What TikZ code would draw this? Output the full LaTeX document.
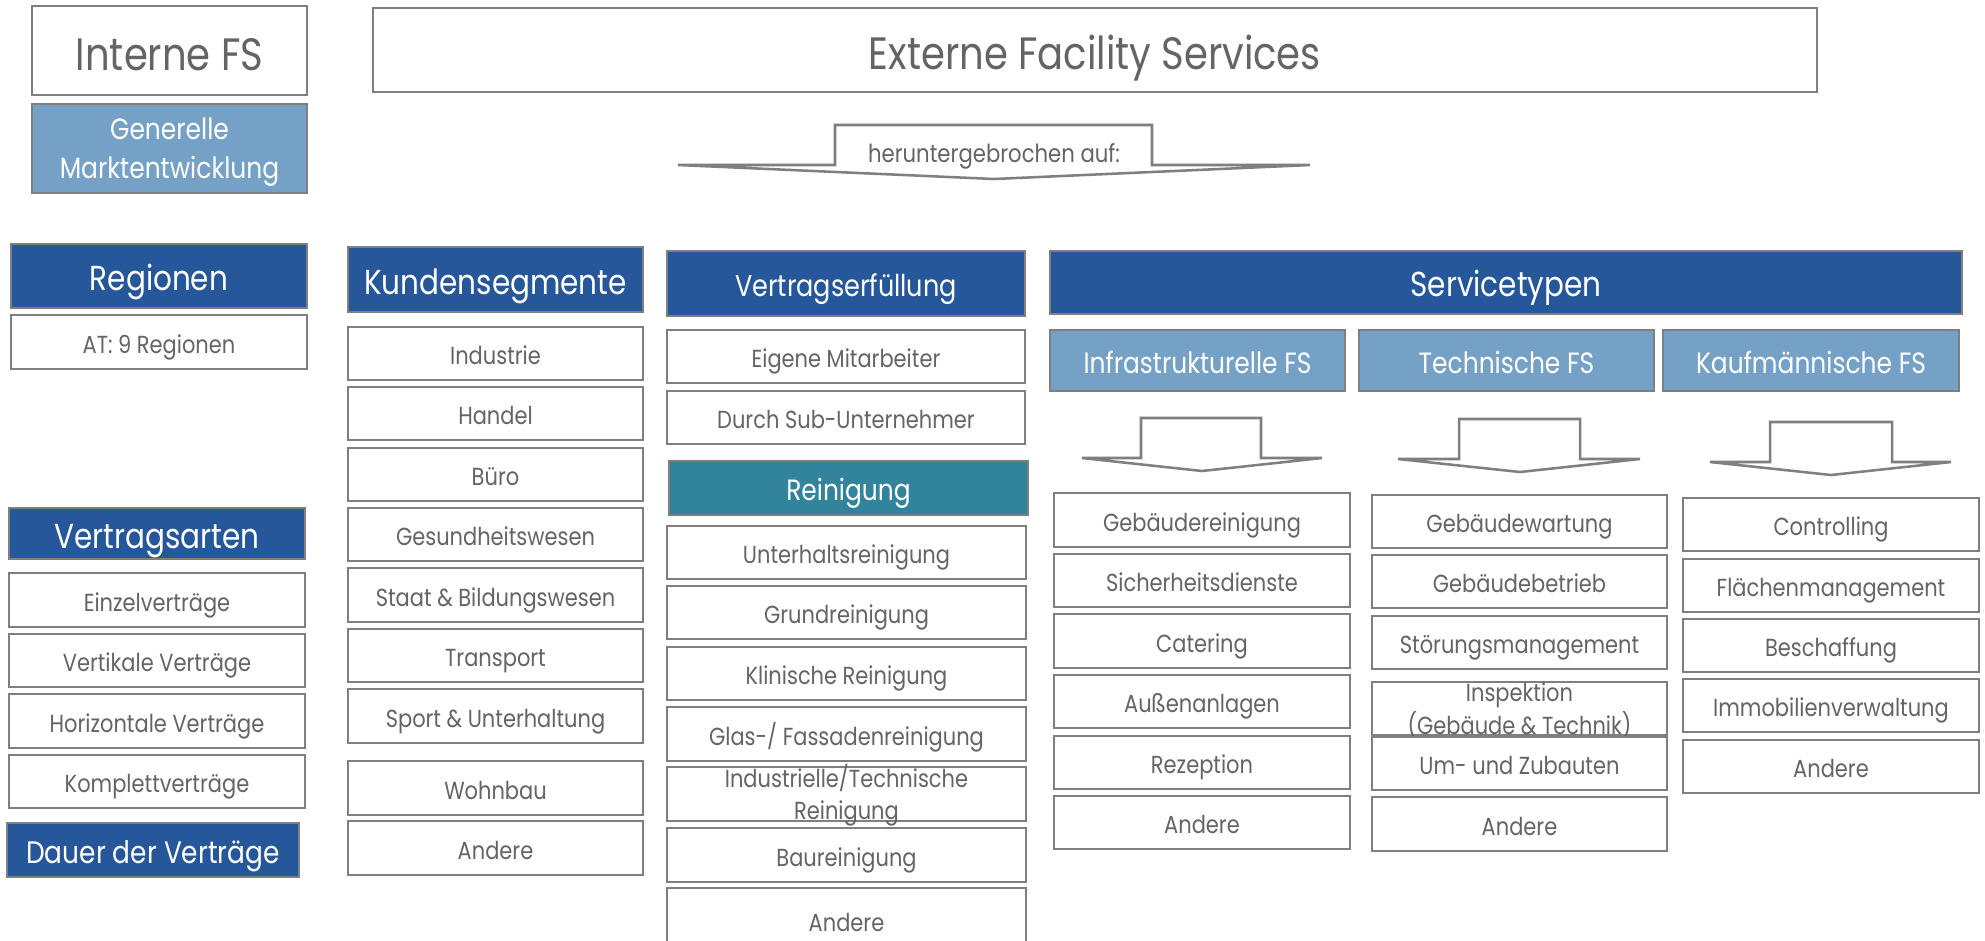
\documentclass[tikz,border=0pt]{standalone}
\usepackage{fontspec}
\setmainfont{Poppins}[FakeStretch=0.85]
\definecolor{dblue}{HTML}{26579A}
\definecolor{lblue}{HTML}{75A1C7}
\definecolor{rteal}{HTML}{31849B}
\definecolor{bord}{HTML}{7F7F7F}
\definecolor{txt}{HTML}{646464}
\tikzset{
  fs/.style n args={3}{font=\fontsize{#1}{#2}\selectfont, text height=#3, text depth=0pt},
  box/.style={draw=bord, line width=1.9pt, fill=white, inner sep=0pt, text=txt, align=center,
    fs={18.5}{24}{17pt}},
  bigbox/.style={box, fs={34}{40}{29.5pt}},
  hdrA/.style={box, fill=dblue, text=white, fs={26}{31}{22pt}},
  hdrB/.style={box, fill=dblue, text=white, fs={22.5}{28}{19.5pt}},
  subbox/.style={box, fill=lblue, text=white, fs={22}{29.5}{19pt}},
  tealbox/.style={box, fill=rteal, text=white, fs={22}{28}{19pt}},
  arrowshape/.style={draw=bord, line width=1.9pt, fill=white, line join=miter},
}
\newcommand\bx[7]{\node[#2, minimum width={(#5-#3)*0.75pt}, minimum height={(#6-#4)*0.75pt}] (#1) at ({(#3+#5)/2},{(#4+#6)/2}) {#7};}
\newcommand\twoline[2]{\raisebox{0.1em}[0pt][0pt]{\begin{tabular}{@{}c@{}}#1\\#2\end{tabular}}}
\begin{document}
\begin{tikzpicture}[x=0.75pt,y=-0.75pt]
\useasboundingbox[fill=white] (0,0) rectangle (1985,940);
% top
\bx{interne}{bigbox}{32}{6}{307}{95}{Interne FS}
\bx{externe}{bigbox}{373}{8}{1817}{92}{Externe Facility Services}
\bx{generelle}{subbox}{32}{104}{307}{193}{\twoline{Generelle}{Marktentwicklung}}
% big arrow
\draw[arrowshape] (835,125) -- (1152,125) -- (1152,165) -- (1310,165) -- (994,179) -- (678,165) -- (835,165) -- cycle;
\node[text=txt, inner sep=0pt, fs={18.7}{23}{14.2pt}] (herunter) at (994,153) {heruntergebrochen auf:};
% Regionen / Vertragsarten
\bx{regionen}{hdrA}{11}{244}{307}{308}{Regionen}
\bx{at}{box}{11}{315}{307}{369}{AT: 9 Regionen}
\bx{vertragsarten}{hdrA}{9}{508}{305}{559}{Vertragsarten}
\bx{va1}{box}{9}{573}{305}{627}{Einzelverträge}
\bx{va2}{box}{9}{634}{305}{687}{Vertikale Verträge}
\bx{va3}{box}{9}{694}{305}{748}{Horizontale Verträge}
\bx{va4}{box}{9}{755}{305}{808}{Komplettverträge}
\bx{dauer}{hdrB, fs={23.3}{28}{20pt}}{7}{823}{299}{877}{Dauer der Verträge}
% Kundensegmente
\bx{kunden}{hdrA}{348}{247}{643}{312}{Kundensegmente}
\bx{k1}{box}{348}{327}{643}{380}{Industrie}
\bx{k2}{box}{348}{387}{643}{440}{Handel}
\bx{k3}{box}{348}{448}{643}{501}{Büro}
\bx{k4}{box}{348}{508}{643}{561}{Gesundheitswesen}
\bx{k5}{box}{348}{568}{643}{622}{Staat \& Bildungswesen}
\bx{k6}{box}{348}{629}{643}{682}{Transport}
\bx{k7}{box}{348}{689}{643}{743}{Sport \& Unterhaltung}
\bx{k8}{box}{348}{761}{643}{815}{Wohnbau}
\bx{k9}{box}{348}{821}{643}{875}{Andere}
% Vertragserfuellung / Reinigung
\bx{erfuellung}{hdrB}{667}{251}{1025}{316}{Vertragserfüllung}
\bx{e1}{box}{667}{330}{1025}{383}{Eigene Mitarbeiter}
\bx{e2}{box}{667}{391}{1025}{444}{Durch Sub-Unternehmer}
\bx{reinigung}{tealbox}{669}{461}{1028}{515}{Reinigung}
\bx{r1}{box}{667}{526}{1026}{579}{Unterhaltsreinigung}
\bx{r2}{box}{667}{586}{1026}{639}{Grundreinigung}
\bx{r3}{box}{667}{647}{1026}{700}{Klinische Reinigung}
\bx{r4}{box}{667}{707}{1026}{761}{Glas-/ Fassadenreinigung}
\bx{r5}{box}{667}{767}{1026}{821}{\twoline{Industrielle/Technische}{Reinigung}}
\bx{r6}{box}{667}{828}{1026}{882}{Baureinigung}
\bx{r7}{box}{667}{888}{1026}{952}{Andere}
% Servicetypen
\bx{service}{hdrB, fs={26}{31}{21.5pt}}{1050}{251}{1962}{314}{Servicetypen}
\bx{infra}{subbox}{1050}{330}{1345}{391}{Infrastrukturelle FS}
\bx{tech}{subbox}{1359}{330}{1654}{391}{Technische FS}
\bx{kauf}{subbox}{1663}{330}{1959}{391}{Kaufmännische FS}
% small arrows
\draw[arrowshape] (1141,418) -- (1261,418) -- (1261,458) -- (1322,458) -- (1202,471) -- (1082,458) -- (1141,458) -- cycle;
\draw[arrowshape] (1459,419) -- (1580,419) -- (1580,459) -- (1640,459) -- (1520,472) -- (1398,459) -- (1459,459) -- cycle;
\draw[arrowshape] (1770,422) -- (1892,422) -- (1892,462) -- (1951,462) -- (1831,475) -- (1710,462) -- (1770,462) -- cycle;
% Infra items
\bx{i1}{box}{1054}{493}{1350}{547}{Gebäudereinigung}
\bx{i2}{box}{1054}{554}{1350}{607}{Sicherheitsdienste}
\bx{i3}{box}{1054}{614}{1350}{668}{Catering}
\bx{i4}{box}{1054}{675}{1350}{728}{Außenanlagen}
\bx{i5}{box}{1054}{736}{1350}{789}{Rezeption}
\bx{i6}{box}{1054}{796}{1350}{849}{Andere}
% Tech items
\bx{t1}{box}{1372}{495}{1667}{548}{Gebäudewartung}
\bx{t2}{box}{1372}{555}{1667}{608}{Gebäudebetrieb}
\bx{t3}{box}{1372}{616}{1667}{669}{Störungsmanagement}
\bx{t4}{box}{1372}{682}{1667}{735}{\twoline{Inspektion}{(Gebäude \& Technik)}}
\bx{t5}{box}{1372}{737}{1667}{790}{Um- und Zubauten}
\bx{t6}{box}{1372}{797}{1667}{851}{Andere}
% Kauf items
\bx{c1}{box}{1683}{498}{1979}{551}{Controlling}
\bx{c2}{box}{1683}{559}{1979}{612}{Flächenmanagement}
\bx{c3}{box}{1683}{619}{1979}{672}{Beschaffung}
\bx{c4}{box}{1683}{679}{1979}{732}{Immobilienverwaltung}
\bx{c5}{box}{1683}{740}{1979}{793}{Andere}
\end{tikzpicture}
\end{document}
